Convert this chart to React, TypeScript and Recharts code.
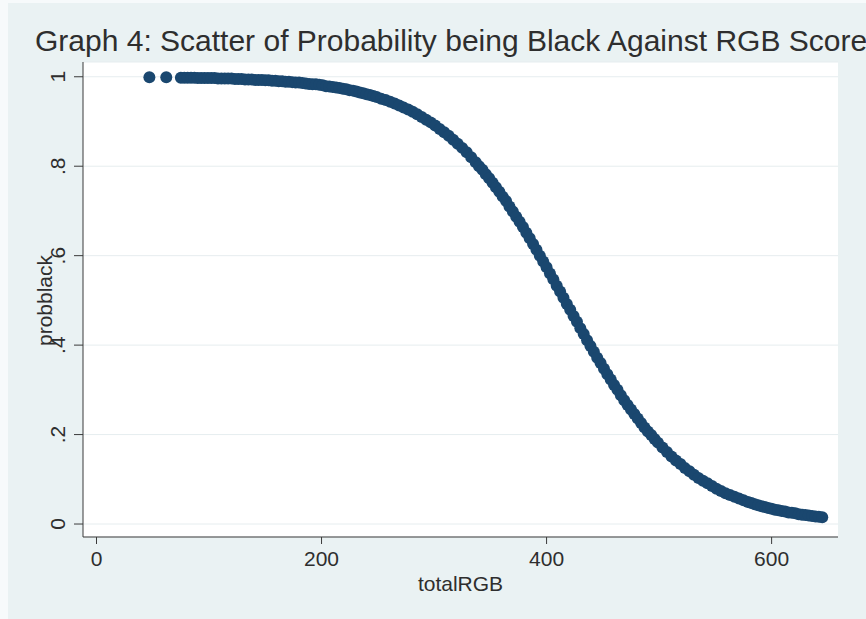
import React from "react";
import { ScatterChart, Scatter, XAxis, YAxis, CartesianGrid } from "recharts";

// totalRGB score vs predicted probability of being black
const totalRGB = [
  47, 62,
  75, 78, 81, 84, 87, 90, 93, 96, 99, 102, 105, 108, 111, 114, 117, 120, 123, 126, 129,
  132, 135, 138, 141, 144, 147, 150, 153, 156, 159, 162, 165, 168, 171, 174, 177, 180,
  183, 186, 189, 192, 195, 198, 201, 204, 207, 210, 213, 216, 219, 222, 225, 228, 231,
  234, 237, 240, 243, 246, 249,
  253, 257, 261, 265, 269, 273, 277, 281, 285, 289, 293, 297, 301, 305, 309, 313, 317,
  321, 325, 329, 333, 337,
  340, 343, 346, 349, 352, 355, 358, 361, 364, 367, 370, 373, 376, 379, 382, 385, 388,
  391, 394, 397, 400, 403, 406, 409, 412, 415, 418, 421, 424, 427, 430, 433, 436, 439,
  442, 445, 448, 451, 454, 457, 460, 463, 466, 469, 472, 475, 478, 481, 484, 487, 490,
  493, 496, 499,
  503, 507, 511, 515, 519, 523, 527, 531, 535, 539, 543, 547, 551, 555, 559, 563, 567,
  571, 575, 579,
  582, 585, 588, 591, 594, 597, 600, 603, 606, 609, 612, 615, 618, 621, 624, 627, 630,
  633, 636, 639, 642, 645,
];

const probblack = [
  0.999, 0.999,
  0.998, 0.998, 0.998, 0.998, 0.998, 0.997, 0.997, 0.997, 0.997, 0.997, 0.997, 0.996,
  0.996, 0.996, 0.996, 0.996, 0.995, 0.995, 0.995, 0.994, 0.994, 0.994, 0.993, 0.993,
  0.993, 0.992, 0.992, 0.991, 0.991, 0.99, 0.99, 0.989, 0.989, 0.988, 0.987, 0.987,
  0.986, 0.985, 0.984, 0.983, 0.983, 0.982, 0.981, 0.979, 0.978, 0.977, 0.976, 0.975,
  0.973, 0.972, 0.97, 0.969, 0.967, 0.965, 0.963, 0.961, 0.959, 0.957, 0.955,
  0.951, 0.948, 0.944, 0.94, 0.936, 0.931, 0.927, 0.922, 0.916, 0.91, 0.904, 0.898,
  0.891, 0.883, 0.876, 0.868, 0.859, 0.85, 0.841, 0.831, 0.82, 0.809,
  0.8, 0.792, 0.782, 0.773, 0.763, 0.753, 0.743, 0.732, 0.722, 0.71, 0.699, 0.687,
  0.676, 0.664, 0.651, 0.639, 0.626, 0.613, 0.6, 0.587, 0.574, 0.56, 0.547, 0.533,
  0.52, 0.506, 0.492, 0.479, 0.465, 0.452, 0.438, 0.425, 0.411, 0.398, 0.385, 0.372,
  0.36, 0.347, 0.335, 0.323, 0.311, 0.3, 0.288, 0.277, 0.266, 0.256, 0.246, 0.236,
  0.226, 0.216, 0.207, 0.199, 0.19, 0.182,
  0.171, 0.161, 0.151, 0.142, 0.134, 0.125, 0.118, 0.11, 0.103, 0.097, 0.091, 0.085,
  0.079, 0.074, 0.069, 0.065, 0.061, 0.057, 0.053, 0.049,
  0.047, 0.044, 0.042, 0.04, 0.038, 0.036, 0.034, 0.032, 0.031, 0.029, 0.028, 0.026,
  0.025, 0.024, 0.022, 0.021, 0.02, 0.019, 0.018, 0.017, 0.016, 0.015,
];

const xTicks = [0, 200, 400, 600];
const yTicks = [0, 0.2, 0.4, 0.6, 0.8, 1];
const yTickLabels = ["0", ".2", ".4", ".6", ".8", "1"];

const data = totalRGB.map((x, i) => ({ x, y: probblack[i] }));

const FONT = '"Liberation Sans", Arial, Helvetica, sans-serif';
const TEXT = "#2e2e2e";
const NAVY = "#1a476f";
const AXIS = "#3a3a3a";

function XTick({ x, y, payload }: any) {
  return (
    <text x={x} y={y} dy={20} textAnchor="middle" fontSize={21} fontFamily={FONT} fill={TEXT}>
      {payload.value}
    </text>
  );
}

function YTick({ x, y, payload }: any) {
  const label = yTickLabels[yTicks.indexOf(payload.value)];
  const tx = x - 7;
  return (
    <text
      x={tx}
      y={y}
      transform={`rotate(-90, ${tx}, ${y})`}
      textAnchor="middle"
      fontSize={21}
      fontFamily={FONT}
      fill={TEXT}
    >
      {label}
    </text>
  );
}

function Dot({ cx, cy }: any) {
  return <circle cx={cx} cy={cy} r={6} fill={NAVY} />;
}

export default function App() {
  return (
    <div
      style={{
        position: "absolute",
        left: 0,
        top: 0,
        width: 866,
        height: 619,
        overflow: "hidden",
        background: "#f7fafb",
        fontFamily: FONT,
      }}
    >
      <div style={{ position: "absolute", left: 8, top: 3, width: 858, height: 616, background: "#eaf2f3" }}>
        <ScatterChart width={858} height={616} margin={{ top: 59, right: 28, bottom: 42, left: 25 }}>
          <CartesianGrid vertical={false} stroke="#e6edef" fill="#ffffff" />
          <XAxis
            type="number"
            dataKey="x"
            domain={[-12, 659]}
            ticks={xTicks}
            allowDataOverflow
            height={40}
            tickSize={7}
            tick={<XTick />}
            axisLine={{ stroke: AXIS }}
            tickLine={{ stroke: AXIS }}
          />
          <YAxis
            type="number"
            dataKey="y"
            domain={[-0.029, 1.033]}
            ticks={yTicks}
            allowDataOverflow
            width={50}
            tickSize={9}
            tick={<YTick />}
            axisLine={{ stroke: AXIS }}
            tickLine={{ stroke: AXIS }}
          />
          <Scatter data={data} fill={NAVY} shape={<Dot />} isAnimationActive={false} />
        </ScatterChart>
      </div>
      <div
        style={{
          position: "absolute",
          left: 35,
          top: 25.6,
          fontSize: 30,
          lineHeight: 1,
          whiteSpace: "nowrap",
          color: TEXT,
        }}
      >
        Graph 4: Scatter of Probability being Black Against RGB Score
      </div>
      <div
        style={{
          position: "absolute",
          left: 360.5,
          width: 200,
          top: 573.2,
          fontSize: 21,
          lineHeight: 1,
          textAlign: "center",
          color: TEXT,
        }}
      >
        totalRGB
      </div>
      <div
        style={{
          position: "absolute",
          left: 43.7 - 70,
          top: 300 - 10.5,
          width: 140,
          height: 21,
          fontSize: 21,
          lineHeight: "21px",
          textAlign: "center",
          color: TEXT,
          transform: "rotate(-90deg)",
        }}
      >
        probblack
      </div>
    </div>
  );
}
